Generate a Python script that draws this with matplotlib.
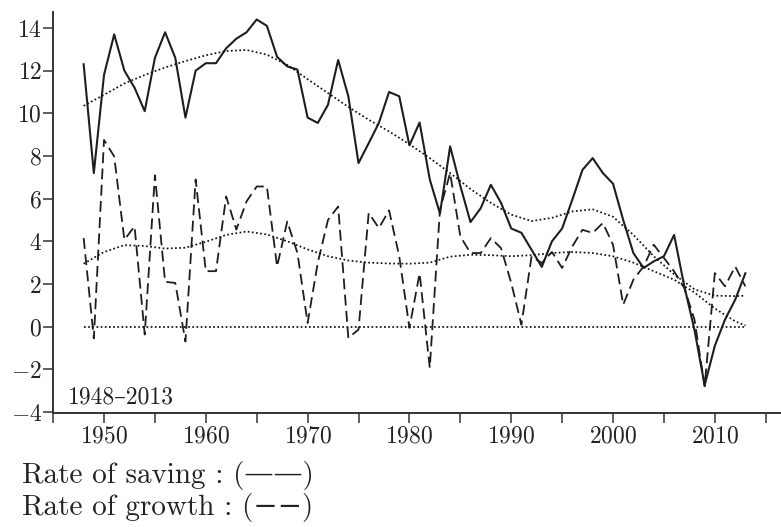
import matplotlib
matplotlib.use('Agg')
import matplotlib.pyplot as plt
from matplotlib import rcParams

rcParams['font.family'] = ['cmr10', 'DejaVu Serif']
rcParams['mathtext.fontset'] = 'cm'
rcParams['axes.formatter.use_mathtext'] = True

# years and the two series (per cent)
years = list(range(1948, 2014))
saving = [12.3, 7.2, 11.8, 13.7, 12.0, 11.2, 10.1, 12.6, 13.8, 12.6,
          9.8, 12.0, 12.35, 12.35, 13.05, 13.5, 13.8, 14.4, 14.1, 12.65,
          12.2, 12.05, 9.8, 9.55, 10.4, 12.5, 10.8, 7.67, 8.6, 9.55,
          11.0, 10.8, 8.5, 9.57, 6.9, 5.3, 8.45, 6.6, 4.9, 5.55,
          6.65, 5.8, 4.6, 4.4, 3.6, 2.8, 4.0, 4.6, 5.95, 7.35,
          7.9, 7.2, 6.7, 5.0, 3.45, 2.75, 3.06, 3.3, 4.3, 1.9,
          -0.15, -2.75, -0.9, 0.33, 1.26, 2.5]
growth = [4.15, -0.55, 8.75, 7.98, 4.07, 4.7, -0.37, 7.1, 2.1, 2.05,
          -0.7, 6.9, 2.6, 2.6, 6.1, 4.55, 5.87, 6.57, 6.57, 2.82,
          4.93, 3.45, 0.17, 3.0, 5.0, 5.63, -0.53, -0.14, 5.33, 4.62,
          5.45, 3.3, -0.06, 2.5, -1.93, 5.48, 7.2, 4.23, 3.45, 3.45,
          4.15, 3.68, 2.05, 0.09, 3.3, 2.98, 3.5, 2.75, 3.76, 4.54,
          4.39, 4.86, 3.84, 1.03, 2.2, 2.82, 3.84, 3.22, 2.59, 1.81,
          0.33, -2.8, 2.51, 1.89, 2.82, 1.89]

# smoothed trends
trend_years = [1948, 1950, 1952, 1954, 1956, 1958, 1960, 1962, 1964, 1966,
               1968, 1970, 1972, 1974, 1976, 1978, 1980, 1982, 1984, 1986,
               1988, 1990, 1992, 1994, 1996, 1998, 2000, 2002, 2004, 2006,
               2008, 2010, 2012, 2013]
saving_trend = [10.35, 10.87, 11.4, 11.8, 12.15, 12.45, 12.72, 12.92, 12.97, 12.75,
                12.27, 11.6, 10.95, 10.3, 9.7, 9.15, 8.55, 7.9, 7.2, 6.45,
                5.8, 5.25, 4.95, 5.1, 5.4, 5.5, 5.15, 4.3, 3.3, 2.45,
                1.75, 1.45, 1.43, 1.45]
growth_trend = [2.95, 3.5, 3.82, 3.78, 3.66, 3.7, 3.98, 4.3, 4.46, 4.32,
                4.0, 3.62, 3.3, 3.1, 3.0, 2.96, 2.95, 3.0, 3.28, 3.37,
                3.35, 3.3, 3.35, 3.45, 3.5, 3.45, 3.3, 3.0, 2.6, 2.2,
                1.6, 0.85, 0.25, 0.05]

fig = plt.figure(figsize=(7.81, 5.27), dpi=100)
ax = fig.add_axes([0.068, 0.2163, 0.932, 0.7609])

line_col = '#1e1e1e'
dot = (0, (1, 1.4))
ax.plot(years, saving, color=line_col, lw=1.5)
ax.plot(years, growth, color=line_col, lw=1.3, dashes=(6, 3))
ax.plot(trend_years, saving_trend, color='#111111', lw=1.25, linestyle=dot)
ax.plot(trend_years, growth_trend, color='#111111', lw=1.25, linestyle=dot)
ax.plot([years[0], years[-1]], [0, 0], color='#111111', lw=1.25, linestyle=dot)

ax.set_xlim(1945, 2016.5)
ax.set_ylim(-4.05, 14.75)
ax.set_xticks(range(1950, 2011, 10))
ax.set_xticks(range(1945, 2016, 5), minor=True)
ax.set_yticks(range(-4, 15, 2))

for s in ['top', 'right']:
    ax.spines[s].set_visible(False)
for s in ['left', 'bottom']:
    ax.spines[s].set_color('#333333')
    ax.spines[s].set_linewidth(1.4)

ax.tick_params(axis='both', which='both', direction='out', length=7, width=1.1,
               color='#333333', labelsize=17, labelcolor='#222222')
ax.tick_params(axis='y', pad=1)
ax.tick_params(axis='x', pad=2)

ax.text(1946.5, -3.3, '1948–2013', fontsize=17, color='#222222', va='center')

fig.text(0.028, 0.0835, 'Rate of saving : (——)', fontsize=21, color='#222222')
fig.text(0.028, 0.0228, 'Rate of growth : (−−)', fontsize=21, color='#222222')

plt.savefig('out.png', dpi=100)
